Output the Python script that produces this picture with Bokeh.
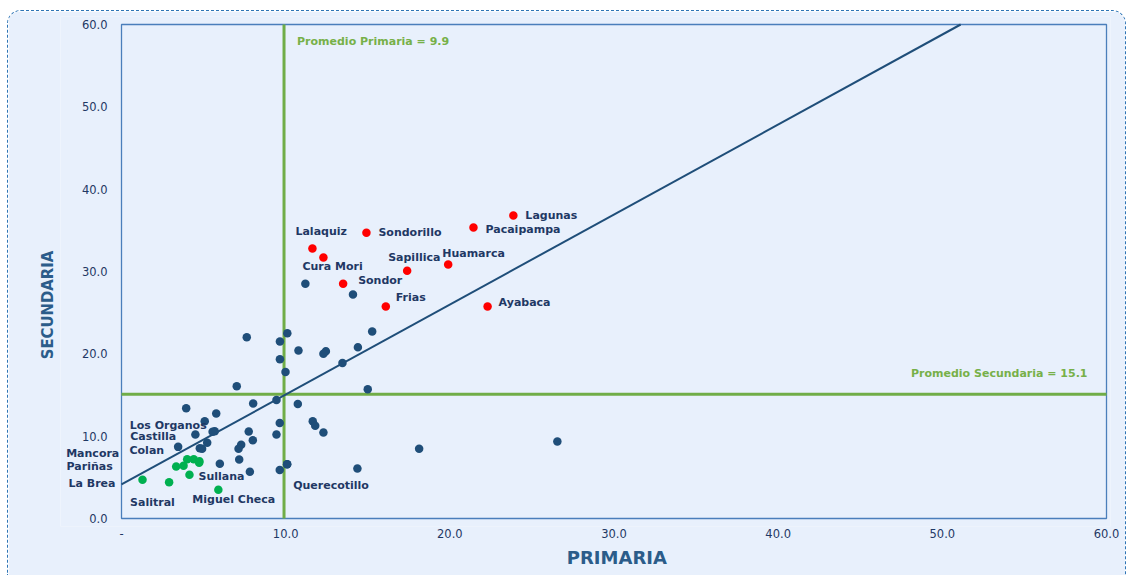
from bokeh.plotting import figure
from bokeh.models import Range1d, FixedTicker, Label
from bokeh.core.properties import value
from bokeh.embed import file_html
from bokeh.resources import INLINE

# ---------------- data ----------------
x_ticks = [0, 10, 20, 30, 40, 50, 60]
x_tick_labels = ["-", "10.0", "20.0", "30.0", "40.0", "50.0", "60.0"]
y_ticks = [0, 10, 20, 30, 40, 50, 60]
y_tick_labels = ["0.0", "10.0", "20.0", "30.0", "40.0", "50.0", "60.0"]

prom_primaria = 9.9
prom_secundaria = 15.1
trend_intercept = 4.13
trend_slope = 1.093

# other districts (dark blue)
blue_x = [11.2, 14.1, 10.1, 9.65, 15.27, 10.78, 12.45, 12.3, 14.4, 9.65, 13.46, 9.99,
          15.0, 9.44, 10.74, 9.64, 11.65, 11.8, 12.3, 9.44, 18.13, 10.09, 9.64, 14.37,
          8.02, 7.75, 8.0, 7.63, 7.02, 3.94, 5.77, 5.07, 5.68, 5.55, 4.5, 3.45, 5.22,
          7.29, 7.13, 4.77, 4.91, 7.17, 5.99, 7.82, 26.55]
blue_y = [28.5, 27.2, 22.5, 21.5, 22.7, 20.4, 20.3, 20.0, 20.8, 19.35, 18.9, 17.8,
          15.7, 14.4, 13.9, 11.6, 11.8, 11.26, 10.45, 10.2, 8.46, 6.6, 5.9, 6.07,
          13.97, 10.57, 9.5, 22.0, 16.07, 13.4, 12.75, 11.8, 10.6, 10.55, 10.2, 8.7, 9.2,
          8.95, 8.47, 8.54, 8.47, 7.17, 6.64, 5.67, 9.35]

# highlighted high-value districts (red)
red_names = ["Lagunas", "Pacaipampa", "Sondorillo", "Lalaquiz", "Cura Mori",
             "Huamarca", "Sapillica", "Sondor", "Frias", "Ayabaca"]
red_x = [23.87, 21.44, 14.92, 11.63, 12.3, 19.9, 17.4, 13.5, 16.1, 22.3]
red_y = [36.8, 35.35, 34.7, 32.8, 31.7, 30.85, 30.1, 28.5, 25.75, 25.75]

# highlighted low-value districts (green)
green_names = ["Los Organos", "Castilla", "Colan", "", "Mancora", "Pariñas",
               "Sullana", "La Brea", "Salitral", "Miguel Checa"]
green_x = [4.4, 4.0, 4.75, 4.73, 3.33, 3.78, 4.14, 1.28, 2.9, 5.9]
green_y = [7.2, 7.2, 6.96, 6.77, 6.32, 6.4, 5.3, 4.7, 4.4, 3.48]

extra_names = ["Querecotillo"]
extra_x = [10.09]
extra_y = [6.6]

# label pixel offsets (style only): (dx right, dy down)
red_off = [(12, 0), (12, 2), (12, 0), (-17, -17), (-21, 9),
           (-6, -11), (-19, -13), (15, -3), (10, -9), (11, -4)]
green_off = [(-64, -34), (-57, -23), (-70, -11), (0, 0), (-110, -13), (-117, 1),
             (9, 2), (-74, 4), (-39, 20), (-26, 10)]
extra_off = [(6, 21)]

# ---------------- styles / layout ----------------
BG = "#E8F0FC"
NAVY = "#1F3864"
DOT_BLUE = "#1F4E79"
GREEN_LINE = "#70AD47"
BOX_BLUE = "#4A7EBB"
LABEL_FONT = "DejaVu Sans"

W, H = 1119, 565
PLOT_W_PX, PLOT_H_PX = 985, 494     # size of the visible plot box
PAD_L, PAD_R, PAD_T, PAD_B = 61, 4, 8, 8   # extra frame room so edge texts are not clipped
X_MIN, X_MAX, Y_MIN, Y_MAX = 0, 60, 0, 60
ux = (X_MAX - X_MIN) / PLOT_W_PX
uy = (Y_MAX - Y_MIN) / PLOT_H_PX

p = figure(width=W, height=H, output_backend="svg", toolbar_location=None,
           x_range=Range1d(X_MIN - PAD_L * ux, X_MAX + PAD_R * ux),
           y_range=Range1d(Y_MIN - PAD_B * uy, Y_MAX + PAD_T * uy),
           min_border_left=113 - PAD_L, min_border_right=21 - PAD_R,
           min_border_top=13 - PAD_T, min_border_bottom=58 - PAD_B)
p.styles = {"margin-left": "7px", "margin-top": "10px",
            "border-top": "1px dashed #2E75B6", "border-left": "1px dashed #2E75B6",
            "border-right": "1px dashed #2E75B6", "border-bottom": "none",
            "border-radius": "14px 14px 0 0", "overflow": "hidden"}
p.background_fill_color = BG
p.border_fill_color = BG
p.outline_line_color = None
p.xgrid.grid_line_color = None
p.ygrid.grid_line_color = None

for ax in (p.xaxis[0], p.yaxis[0]):
    ax.axis_line_color = None
    ax.major_tick_line_color = None
    ax.minor_tick_line_color = None
    ax.major_tick_out = 0
    ax.major_tick_in = 0
    ax.major_label_text_font = LABEL_FONT
    ax.major_label_text_font_size = "11.5px"
    ax.major_label_text_color = NAVY
    ax.axis_label_text_font_style = "bold"
    ax.axis_label_text_color = "#2B5C8A"

p.xaxis.ticker = FixedTicker(ticks=x_ticks)
p.xaxis.major_label_overrides = {t: l for t, l in zip(x_ticks, x_tick_labels)}
# centred under the visible box (which is right of the frame centre)
p.xaxis.axis_label = "\u00a0" * 10 + "PRIMARIA"
p.xaxis.axis_label_text_font = "DejaVu Sans"
p.xaxis.axis_label_text_font_size = "18px"
p.xaxis.major_label_standoff = 10 - PAD_B
p.xaxis.axis_label_standoff = 6

# y tick labels are drawn as text beside the box; the axis only carries its title
p.yaxis.ticker = FixedTicker(ticks=[])
p.yaxis.major_label_standoff = 0
p.yaxis.axis_label = "SECUNDARIA" + "\u00a0" * 13
p.yaxis.axis_label_text_font = "DejaVu Sans Condensed"
p.yaxis.axis_label_text_font_size = "16.5px"
p.yaxis.axis_label_standoff = 4

# visible plot box
p.quad(left=[X_MIN], right=[X_MAX], bottom=[Y_MIN], top=[Y_MAX],
       fill_color=None, line_color=BOX_BLUE, line_width=1.3)

# y tick labels drawn at the left edge of the box
p.text(x=[X_MIN] * len(y_ticks), y=y_ticks, text=y_tick_labels, x_offset=-14,
       text_font=value(LABEL_FONT), text_font_size="11.5px", text_color=NAVY,
       text_align="right", text_baseline="middle")

# mean lines
p.segment(x0=[prom_primaria], y0=[Y_MIN], x1=[prom_primaria], y1=[Y_MAX],
          line_color=GREEN_LINE, line_width=3)
p.segment(x0=[X_MIN], y0=[prom_secundaria], x1=[X_MAX], y1=[prom_secundaria],
          line_color=GREEN_LINE, line_width=3)

# trend line (from fitted constants), clipped at the top of the box
x_end = min(X_MAX, (Y_MAX - trend_intercept) / trend_slope)
p.line(x=[X_MIN, x_end], y=[trend_intercept + trend_slope * X_MIN, trend_intercept + trend_slope * x_end],
       line_color=DOT_BLUE, line_width=2)

# points
p.scatter(blue_x, blue_y, size=8.5, color=DOT_BLUE, line_color=None)
p.scatter(extra_x, extra_y, size=8.5, color=DOT_BLUE, line_color=None)
p.scatter(red_x, red_y, size=8.5, color="#FF0000", line_color=None)
p.scatter(green_x, green_y, size=8.5, color="#00B050", line_color=None)

# point labels
def add_labels(names, xs, ys, offs):
    for n, x, y, (dx, dy) in zip(names, xs, ys, offs):
        if not n:
            continue
        p.add_layout(Label(x=x, y=y, x_offset=dx, y_offset=-dy, text=n,
                           text_font=LABEL_FONT, text_font_size="11px",
                           text_font_style="bold", text_color=NAVY,
                           text_align="left", text_baseline="middle"))

add_labels(red_names, red_x, red_y, red_off)
add_labels(green_names, green_x, green_y, green_off)
add_labels(extra_names, extra_x, extra_y, extra_off)

# mean labels
p.add_layout(Label(x=prom_primaria, y=Y_MAX, x_offset=13, y_offset=-17,
                   text="Promedio Primaria = %.1f" % prom_primaria,
                   text_font=LABEL_FONT, text_font_size="11px", text_font_style="bold",
                   text_color="#77B049", text_align="left", text_baseline="middle"))
p.add_layout(Label(x=X_MAX, y=prom_secundaria, x_offset=-19, y_offset=21,
                   text="Promedio Secundaria = %.1f" % prom_secundaria,
                   text_font=LABEL_FONT, text_font_size="11px", text_font_style="bold",
                   text_color="#77B049", text_align="right", text_baseline="middle"))

open("out.html", "w").write(file_html(p, INLINE))
